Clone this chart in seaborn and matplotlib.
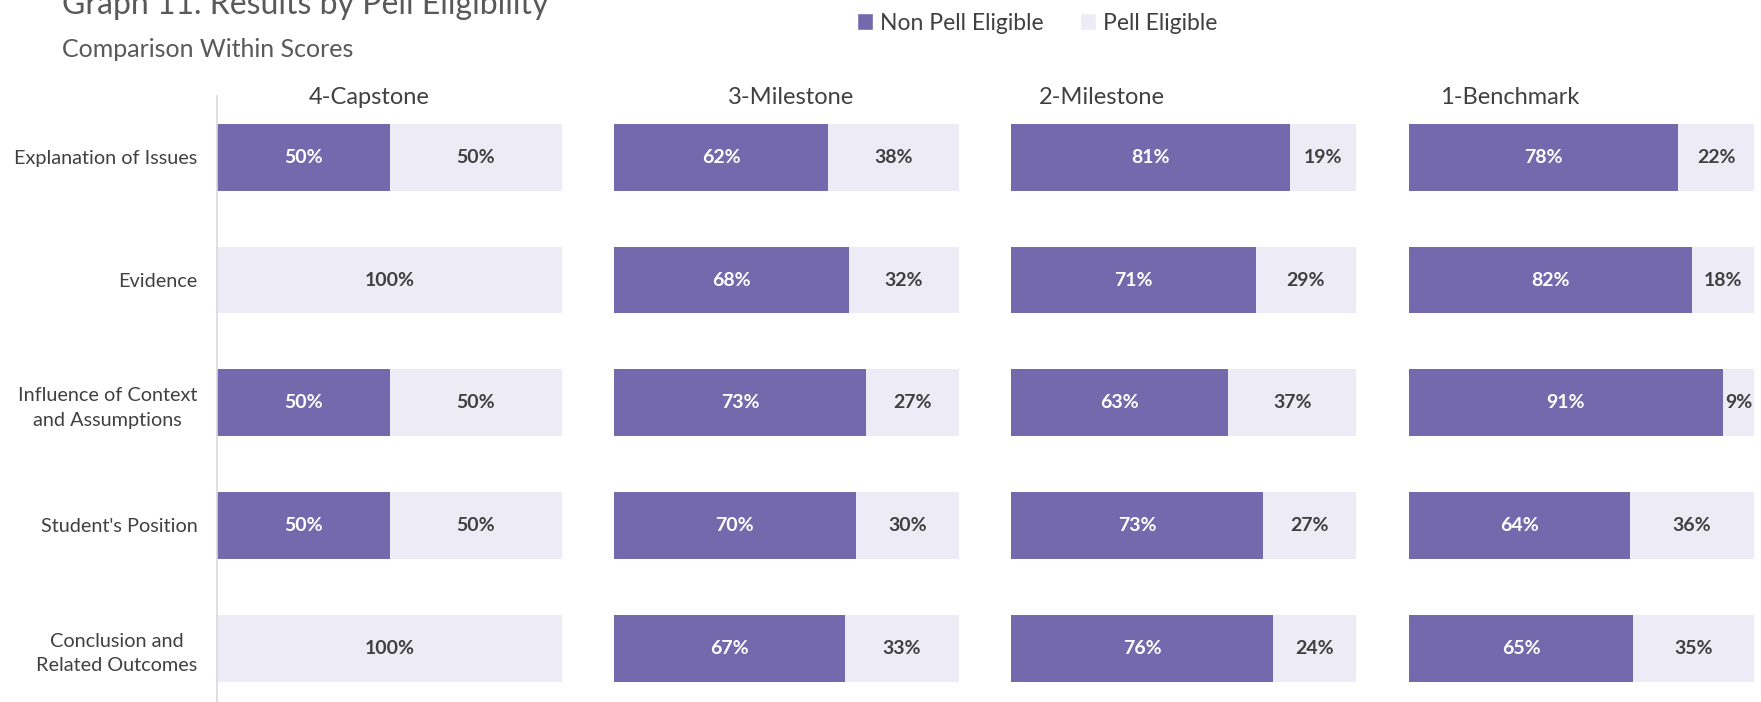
import matplotlib
matplotlib.use("Agg")
import matplotlib.pyplot as plt
from matplotlib.patches import Patch
import seaborn as sns

# rubric rows (top to bottom)
rubrics = ["Explanation of Issues", "Evidence", "Influence of Context\nand Assumptions",
           "Student's Position", "Conclusion and\nRelated Outcomes"]

scores = ["4-Capstone", "3-Milestone", "2-Milestone", "1-Benchmark"]

# percent of students in each score group
non_pell_capstone = [50, 0, 50, 50, 0]
pell_capstone = [50, 100, 50, 50, 100]
non_pell_m3 = [62, 68, 73, 70, 67]
pell_m3 = [38, 32, 27, 30, 33]
non_pell_m2 = [81, 71, 63, 73, 76]
pell_m2 = [19, 29, 37, 27, 24]
non_pell_bench = [78, 82, 91, 64, 65]
pell_bench = [22, 18, 9, 36, 35]

PURPLE = "#7569AE"
LIGHT = "#EDEBF5"
TEXT = "#404040"


def main():
    sns.set_style("white")
    plt.rcParams["font.family"] = ["Lato", "DejaVu Sans"]

    W, H = 1761, 702
    fig = plt.figure(figsize=(W / 100, H / 100), dpi=100)

    panels = [
        (non_pell_capstone, pell_capstone),
        (non_pell_m3, pell_m3),
        (non_pell_m2, pell_m2),
        (non_pell_bench, pell_bench),
    ]
    lefts = [217, 614, 1011, 1409]
    title_x = [309, 728, 1039, 1440]
    ax_w = 345
    ax_top = 96

    for i, (nonpell, pell) in enumerate(panels):
        ax = fig.add_axes([lefts[i] / W, 0, ax_w / W, (H - ax_top) / H])
        total = [a + b for a, b in zip(nonpell, pell)]

        # light full bar behind, purple non-pell share on top
        sns.barplot(x=total, y=rubrics, orient="h", color=LIGHT, width=0.546,
                    linewidth=0, saturation=1, ax=ax)
        sns.barplot(x=nonpell, y=rubrics, orient="h", color=PURPLE, width=0.546,
                    linewidth=0, saturation=1, ax=ax)

        for row, (a, b) in enumerate(zip(nonpell, pell)):
            if a > 0:
                ax.text(a / 2, row, f"{a}%", ha="center", va="center",
                        color="white", fontsize=14, fontweight="bold")
            if b > 0:
                ax.text(a + b / 2, row, f"{b}%", ha="center", va="center",
                        color=TEXT, fontsize=14, fontweight="bold")

        ax.set_xlim(0, 100)
        ax.set_ylim(4.44, -0.50)
        ax.set_xlabel("")
        ax.set_ylabel("")
        ax.set_xticks([])
        sns.despine(ax=ax, left=(i != 0), bottom=True)
        if i == 0:
            ax.spines["left"].set_color("#D9D9D9")
            ax.spines["left"].set_linewidth(1.2)
            ax.tick_params(axis="y", length=0, pad=14, labelsize=14.3, labelcolor=TEXT)
            for t in ax.get_yticklabels():
                t.set_multialignment("center")
                t.set_linespacing(1.55)
        else:
            ax.set_yticks([])

        fig.text(title_x[i] / W, 1 - 98 / H, scores[i], ha="left", va="center",
                 fontsize=17, color=TEXT)

    fig.text(62 / W, 1 - 14 / H, "Graph 11. Results by Pell Eligibility", ha="left",
             va="baseline", fontsize=23, color="#595959")
    fig.text(62 / W, 1 - 57 / H, "Comparison Within Scores", ha="left",
             va="baseline", fontsize=18, color="#595959")

    handles = [Patch(facecolor=PURPLE, label="Non Pell Eligible"),
               Patch(facecolor=LIGHT, label="Pell Eligible")]
    fig.legend(handles=handles, loc="center", ncol=2, frameon=False,
               bbox_to_anchor=(1037 / W, 1 - 23 / H), fontsize=16.5,
               handlelength=0.7, handleheight=0.7, handletextpad=0.3,
               columnspacing=1.6, labelcolor=TEXT)

    fig.savefig("out.png", dpi=100)


if __name__ == "__main__":
    main()
